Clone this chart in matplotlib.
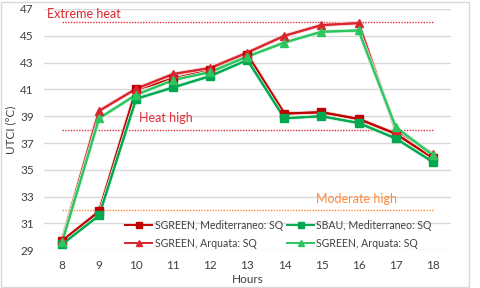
import matplotlib
matplotlib.use("Agg")
import matplotlib.pyplot as plt
import matplotlib.patches as mpatches
import matplotlib.patheffects as pe
from matplotlib.lines import Line2D

hours = [8, 9, 10, 11, 12, 13, 14, 15, 16, 17, 18]

sgreen_med = [29.7, 31.9, 41.0, 41.8, 42.45, 43.6, 39.2, 39.3, 38.8, 37.7, 35.9]
sbau_med = [29.45, 31.6, 40.3, 41.15, 42.0, 43.2, 38.85, 39.0, 38.5, 37.35, 35.6]
sgreen_arq = [29.75, 39.4, 41.05, 42.15, 42.6, 43.75, 45.0, 45.8, 45.95, 38.0, 36.2]
sgreen_arq_g = [29.6, 38.85, 40.6, 41.7, 42.3, 43.45, 44.5, 45.3, 45.4, 38.2, 36.1]

labels = ["SGREEN, Mediterraneo: SQ", "SBAU, Mediterraneo: SQ",
          "SGREEN, Arquata: SQ", "SGREEN, Arquata: SQ"]

thresholds = [46, 38, 32]
threshold_names = ["Extreme heat", "Heat high", "Moderate high"]
threshold_colors = ["#e0303a", "#e0303a", "#ff8a3d"]

plt.rcParams["font.family"] = ["Lato", "DejaVu Sans"]

fig = plt.figure(figsize=(4.8, 2.88), dpi=100)
ax = fig.add_axes([43.5 / 480, 1 - 250.3 / 288, 407.7 / 480, 241.3 / 288])

# gridlines
for v in range(29, 48, 2):
    ax.axhline(v, color="#d9d9d9", linewidth=1.0, zorder=0)

# threshold lines
for t, c in zip(thresholds, threshold_colors):
    ax.hlines(t, 8, 18, colors=c, linestyles=(0, (1, 1)), linewidth=1.0, zorder=1)

ax.text(7.59, 46.63, threshold_names[0], color="#d9262f", fontsize=9, va="center", ha="left")
ax.text(10.08, 38.87, threshold_names[1], color="#e0303a", fontsize=9, va="center", ha="left")
ax.text(14.85, 32.82, threshold_names[2], color="#ff8a3d", fontsize=9, va="center", ha="left")

series = [
    (sgreen_med, "#c00000", "s", "#f4c6c6", 5.5),
    (sbau_med, "#00a84f", "s", "#c4efd7", 5.5),
    (sgreen_arq, "#d9262f", "^", "#f7cccc", 6.0),
    (sgreen_arq_g, "#2ec460", "^", "#c8f2d6", 6.0),
]
handles = []
for vals, col, mk, glow, ms in series:
    ax.plot(hours, vals, color=col, linewidth=1.4, zorder=3,
            path_effects=[pe.withStroke(linewidth=2.8, foreground=glow), pe.Normal()])
    ax.plot(hours, vals, color=col, marker=mk, markersize=ms, linestyle="none", zorder=4)
    handles.append(Line2D([], [], color=col, marker=mk, markersize=4.5, linewidth=1.4))

ax.set_xlim(7.5, 18.5)
ax.set_ylim(29, 47)
ax.set_xticks(hours)
ax.set_yticks(range(29, 48, 2))
ax.tick_params(axis="both", length=0, labelsize=8.5, colors="#404040", pad=7)
for s in ax.spines.values():
    s.set_visible(False)
ax.set_xlabel("Hours", fontsize=8.5, color="#404040", labelpad=2)
ax.set_ylabel("UTCI (°C)", fontsize=8.5, color="#404040", labelpad=3)

order = [0, 2, 1, 3]
leg = ax.legend([handles[i] for i in order], [labels[i] for i in order],
                loc="upper left", bbox_to_anchor=(0.2, 0.127), ncol=2, frameon=False,
                fontsize=7.6, handlelength=2.6, handletextpad=0.2, columnspacing=0.4,
                labelspacing=0.65, borderaxespad=0, borderpad=0)
for t in leg.get_texts():
    t.set_color("#404040")

fig.patches.append(mpatches.Rectangle((1 / 480, 1 / 288), 468 / 480, 285 / 288,
                                      transform=fig.transFigure, fill=False,
                                      edgecolor="#d9d9d9", linewidth=1.0))

fig.savefig("out.png", dpi=100)
